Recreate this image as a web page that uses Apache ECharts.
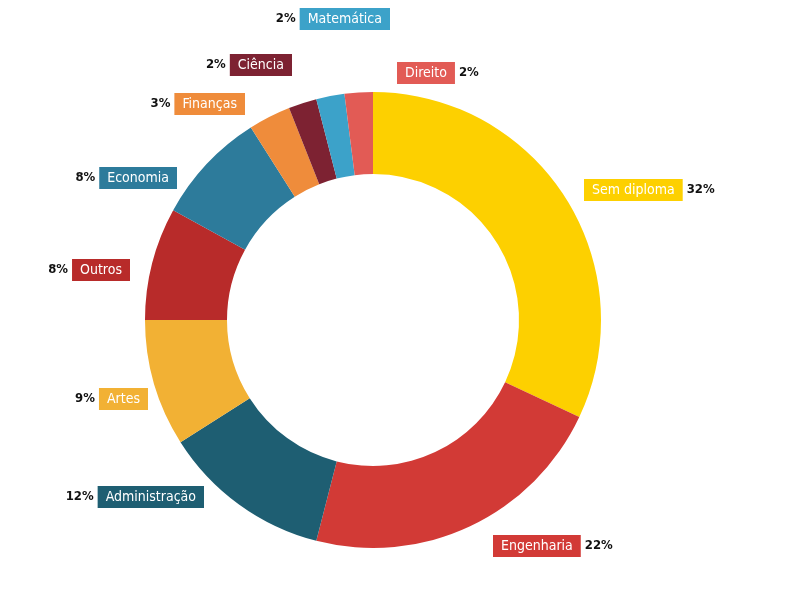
<!DOCTYPE html>
<html>
<head>
<meta charset="utf-8">
<script src="https://cdn.jsdelivr.net/npm/echarts@6/dist/echarts.min.js"></script>
<style>
html,body{margin:0;padding:0;background:#fff;}
#chart{width:800px;height:600px;}
</style>
</head>
<body>
<div id="chart"></div>
<script>
// ---- data ----
var categories = ['Sem diploma', 'Engenharia', 'Administração', 'Artes', 'Outros', 'Economia', 'Finanças', 'Ciência', 'Matemática', 'Direito'];
var values = [32, 22, 12, 9, 8, 8, 3, 2, 2, 2];

// ---- styles / layout (kept separate from data) ----
var colors = ['#FDD000', '#D23A36', '#1E5E72', '#F2B134', '#B82B2A', '#2D7B9B', '#EF8C3B', '#7D2232', '#3CA2C9', '#E25B55'];
// label anchor: [x, y, side] ; side 'r' => box starts at x, 'l' => box ends at x
var labelAnchors = [
  [584, 190, 'r'],
  [493, 546, 'r'],
  [204, 497, 'l'],
  [148, 399, 'l'],
  [130, 270, 'l'],
  [177, 178, 'l'],
  [245, 104, 'l'],
  [292, 65, 'l'],
  [390, 19, 'l'],
  [397, 73, 'r']
];

var chart = echarts.init(document.getElementById('chart'));
var rich = {};
var data = categories.map(function (name, i) {
  rich['b' + i] = {
    color: '#fff',
    backgroundColor: colors[i],
    fontFamily: 'DejaVu Sans Condensed',
    fontSize: 14,
    padding: [4, 8, 4, 8],
    lineHeight: 16
  };
  return { name: name, value: values[i], itemStyle: { color: colors[i] } };
});
rich.p = {
  color: '#111',
  fontFamily: 'DejaVu Sans Condensed',
  fontWeight: 'bold',
  fontSize: 13,
  padding: [0, 4]
};

chart.setOption({
  animation: false,
  series: [{
    type: 'pie',
    center: [373, 320],
    radius: [146, 228],
    startAngle: 90,
    clockwise: true,
    data: data,
    label: {
      show: true,
      position: 'outside',
      formatter: function (p) {
        var side = labelAnchors[p.dataIndex][2];
        if (side === 'r') return '{b' + p.dataIndex + '|' + p.name + '}{p|' + p.value + '%}';
        return '{p|' + p.value + '%}{b' + p.dataIndex + '|' + p.name + '}';
      },
      rich: rich
    },
    labelLine: { show: false },
    labelLayout: function (params) {
      var a = labelAnchors[params.dataIndex];
      return {
        x: a[0],
        y: a[1],
        align: a[2] === 'r' ? 'left' : 'right',
        verticalAlign: 'middle'
      };
    },
    emphasis: { disabled: true }
  }]
});
</script>
</body>
</html>
